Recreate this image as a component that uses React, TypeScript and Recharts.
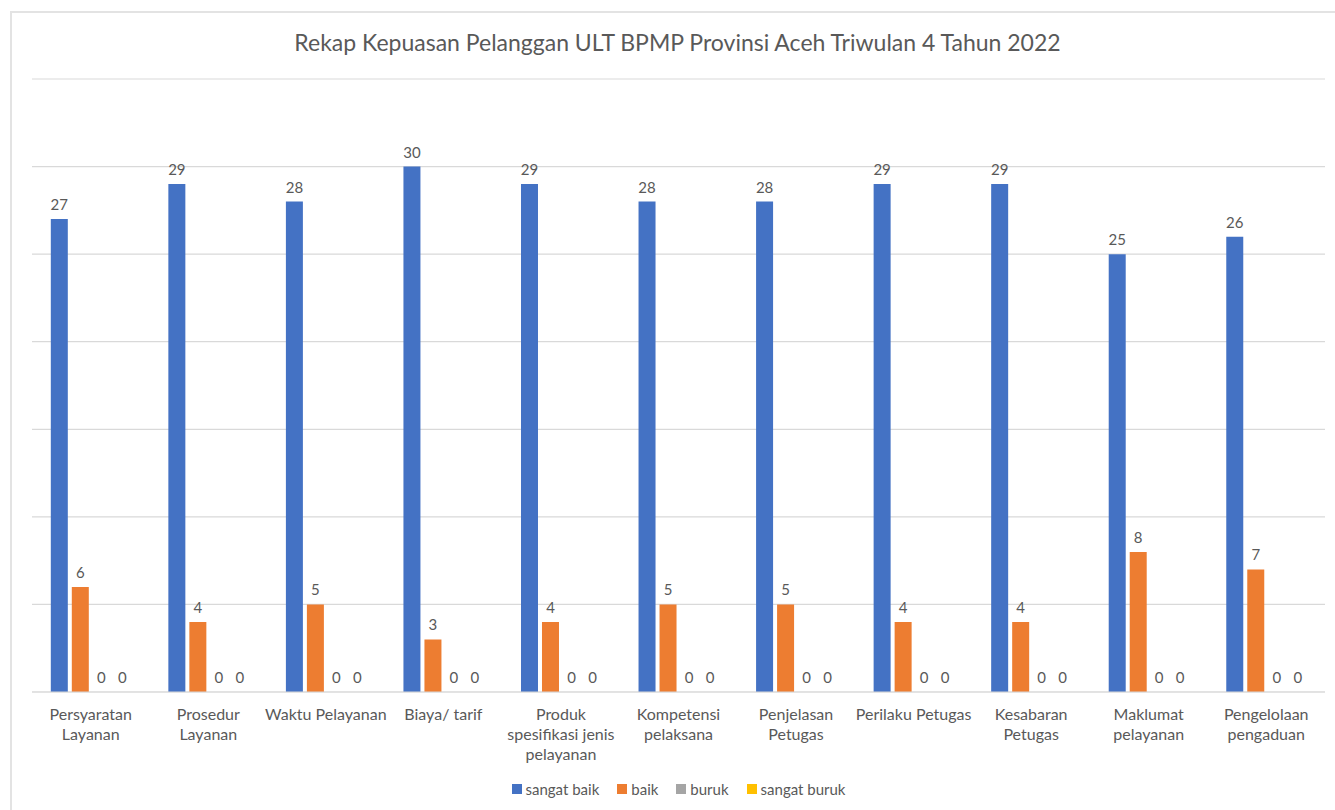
import React from "react";
import { Bar, BarChart, CartesianGrid, LabelList, Legend, XAxis, YAxis } from "recharts";

const categories = [
  "Persyaratan\nLayanan",
  "Prosedur\nLayanan",
  "Waktu Pelayanan",
  "Biaya/ tarif",
  "Produk\nspesifikasi jenis\npelayanan",
  "Kompetensi\npelaksana",
  "Penjelasan\nPetugas",
  "Perilaku Petugas",
  "Kesabaran\nPetugas",
  "Maklumat\npelayanan",
  "Pengelolaan\npengaduan"
];

const sangatBaik = [27, 29, 28, 30, 29, 28, 28, 29, 29, 25, 26];
const baik = [6, 4, 5, 3, 4, 5, 5, 4, 4, 8, 7];
const buruk = [0, 0, 0, 0, 0, 0, 0, 0, 0, 0, 0];
const sangatBuruk = [0, 0, 0, 0, 0, 0, 0, 0, 0, 0, 0];

const yTicks = [0, 5, 10, 15, 20, 25, 30, 35];

const series = [
  { key: "sangatBaik", name: "sangat baik", color: "#4472C4" },
  { key: "baik", name: "baik", color: "#ED7D31" },
  { key: "buruk", name: "buruk", color: "#A5A5A5" },
  { key: "sangatBuruk", name: "sangat buruk", color: "#FFC000" }
];

const data = categories.map((name, i) => ({
  name,
  sangatBaik: sangatBaik[i],
  baik: baik[i],
  buruk: buruk[i],
  sangatBuruk: sangatBuruk[i]
}));

const FONT = "Lato, 'Open Sans', sans-serif";
const TEXT = "#595959";

function CategoryTick({ x, y, payload }: any) {
  const lines = String(payload.value).split("\n");
  return (
    <text x={x} y={y + 20} textAnchor="middle" fill={TEXT} fontSize={16} fontFamily={FONT}>
      {lines.map((line, i) => (
        <tspan key={i} x={x} dy={i === 0 ? 0 : 20}>
          {line}
        </tspan>
      ))}
    </text>
  );
}

function LegendContent() {
  return (
    <div style={{ display: "flex", justifyContent: "center", fontFamily: FONT, fontSize: 15, color: TEXT, paddingTop: 2 }}>
      {series.map((s) => (
        <div key={s.key} style={{ display: "flex", alignItems: "center", margin: "0 9px" }}>
          <span style={{ width: 10, height: 10, background: s.color, marginRight: 4, display: "inline-block" }} />
          <span>{s.name}</span>
        </div>
      ))}
    </div>
  );
}

export default function App() {
  return (
    <div style={{ position: "absolute", left: 0, top: 0, width: 1335, height: 810, background: "#fff", overflow: "hidden" }}>
      <div
        style={{
          position: "absolute",
          left: 10,
          top: 11,
          right: 0,
          bottom: 0,
          borderTop: "2px solid #E3E3E3",
          borderLeft: "2px solid #E3E3E3"
        }}
      />
      <div
        style={{
          position: "absolute",
          left: 0,
          top: 28,
          width: 1355,
          textAlign: "center",
          fontFamily: FONT,
          fontSize: 23,
          color: TEXT
        }}
      >
        Rekap Kepuasan Pelanggan ULT BPMP Provinsi Aceh Triwulan 4 Tahun 2022
      </div>
      <BarChart
        width={1335}
        height={810}
        data={data}
        margin={{ top: 79, right: 10, left: 32, bottom: 8 }}
        barGap={4}
        barCategoryGap="16%"
        style={{ position: "absolute", left: 0, top: 0 }}
      >
        <CartesianGrid vertical={false} stroke="#D9D9D9" strokeWidth={1.2} />
        <YAxis hide domain={[0, 35]} ticks={yTicks} />
        <XAxis
          dataKey="name"
          axisLine={{ stroke: "#D9D9D9" }}
          tickLine={false}
          height={86}
          interval={0}
          tick={<CategoryTick />}
        />
        <Legend verticalAlign="bottom" height={24} content={<LegendContent />} />
        {series.map((s) => (
          <Bar
            key={s.key}
            dataKey={s.key}
            name={s.name}
            fill={s.color}
            minPointSize={0.01}
            isAnimationActive={false}
          >
            <LabelList dataKey={s.key} position="top" offset={9} fill={TEXT} fontSize={15} fontFamily={FONT} />
          </Bar>
        ))}
      </BarChart>
    </div>
  );
}
